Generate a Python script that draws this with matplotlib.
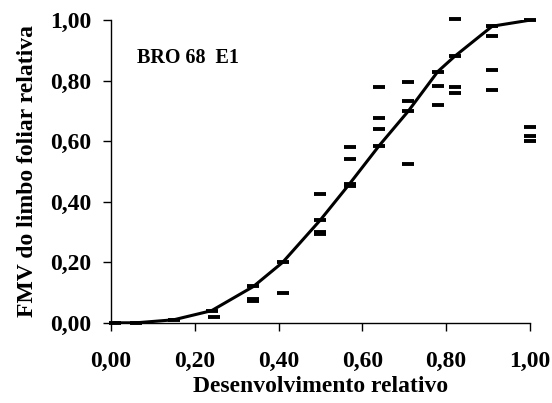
import numpy as np
import matplotlib.pyplot as plt

plt.rcParams['font.family'] = ['Liberation Serif', 'DejaVu Serif']
plt.rcParams['font.weight'] = 'bold'

# ajuste (curva)
x_ajuste = [0.01, 0.06, 0.15, 0.24, 0.34, 0.41, 0.50, 0.57, 0.64, 0.71, 0.78, 0.82, 0.91, 1.00]
y_ajuste = [0.00, 0.00, 0.01, 0.04, 0.12, 0.20, 0.34, 0.46, 0.585, 0.70, 0.83, 0.88, 0.98, 1.00]

# observacoes
x_obs = [0.245, 0.34, 0.34, 0.41,
         0.50, 0.50, 0.50,
         0.57, 0.57, 0.57,
         0.64, 0.64, 0.64,
         0.71, 0.71, 0.71,
         0.78, 0.78,
         0.82, 0.82, 0.82,
         0.91, 0.91, 0.91,
         1.00, 1.00, 1.00]
y_obs = [0.020, 0.080, 0.072, 0.097,
         0.427, 0.300, 0.293,
         0.580, 0.540, 0.453,
         0.779, 0.676, 0.641,
         0.795, 0.733, 0.524,
         0.784, 0.718,
         1.004, 0.778, 0.760,
         0.948, 0.835, 0.770,
         0.647, 0.617, 0.601]

ticks = [0.0, 0.2, 0.4, 0.6, 0.8, 1.0]
tick_labels = ['0,00', '0,20', '0,40', '0,60', '0,80', '1,00']

fig = plt.figure(figsize=(5.52, 4.03), dpi=100)
ax = fig.add_axes([0.201, 0.199, 0.759, 0.751])

ax.plot(x_ajuste, y_ajuste, color='black', lw=2.2, zorder=2)
ax.plot(x_ajuste, y_ajuste, ls='none', marker='_', ms=9, mew=2.8, color='black',
        zorder=3, clip_on=False)
ax.plot(x_obs, y_obs, ls='none', marker='_', ms=9, mew=2.8, color='black',
        zorder=3, clip_on=False)

ax.set_xlim(0, 1.0)
ax.set_ylim(0, 1.0)
ax.set_xticks(ticks)
ax.set_xticklabels(tick_labels, fontsize=17, fontweight='bold')
ax.set_yticks(ticks)
ax.set_yticklabels(tick_labels, fontsize=17, fontweight='bold')
ax.tick_params(direction='out', length=6, width=1)
ax.tick_params(axis='y', pad=8)
ax.tick_params(axis='x', pad=14)
for s in ['top', 'right']:
    ax.spines[s].set_visible(False)
for s in ['left', 'bottom']:
    ax.spines[s].set_linewidth(1.0)

ax.set_xlabel('Desenvolvimento relativo', fontsize=17, fontweight='bold', labelpad=3)
ax.set_ylabel('FMV do limbo foliar relativa', fontsize=17, fontweight='bold', labelpad=9)

ax.text(0.062, 0.875, 'BRO 68  E1', fontsize=14.5, fontweight='bold', va='center')

fig.savefig('out.png', dpi=100)
